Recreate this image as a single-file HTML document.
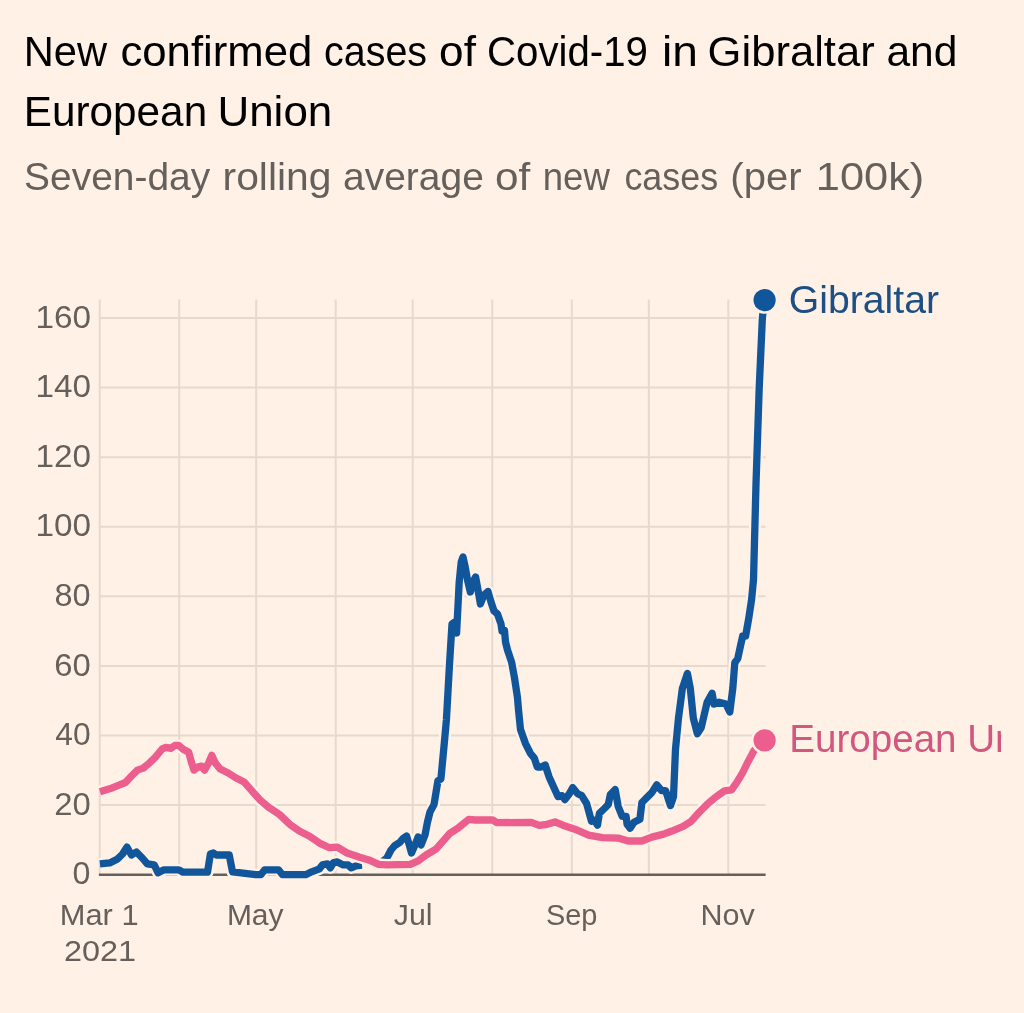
<!DOCTYPE html>
<html lang="en"><head><meta charset="utf-8"><title>New confirmed cases of Covid-19 in Gibraltar and European Union</title>
<style>
html,body{margin:0;padding:0;background:#fff1e5;}
body{width:1024px;height:1013px;overflow:hidden;position:relative;font-family:"Liberation Sans",Arial,sans-serif;}
svg{position:absolute;left:0;top:0;display:block}
text{font-family:"Liberation Sans",Arial,sans-serif;}
.t{fill:#000;font-size:42px}
.s{fill:#66605c;font-size:38px}
.k{fill:#66605c;font-size:31px}
.l{font-size:38.5px}
</style></head><body>
<svg width="1024" height="1013" viewBox="0 0 1024 1013">
<defs><clipPath id="c"><rect x="0" y="0" width="1001.3" height="1013"/></clipPath></defs>
<rect width="1024" height="1013" fill="#fff1e5"/>
<g stroke="#e6d9ce" stroke-width="2" fill="none">
<line x1="99.7" y1="299.6" x2="99.7" y2="874.7"/>
<line x1="179.2" y1="299.6" x2="179.2" y2="874.7"/>
<line x1="256.2" y1="299.6" x2="256.2" y2="874.7"/>
<line x1="335.7" y1="299.6" x2="335.7" y2="874.7"/>
<line x1="412.7" y1="299.6" x2="412.7" y2="874.7"/>
<line x1="492.3" y1="299.6" x2="492.3" y2="874.7"/>
<line x1="571.8" y1="299.6" x2="571.8" y2="874.7"/>
<line x1="648.8" y1="299.6" x2="648.8" y2="874.7"/>
<line x1="728.3" y1="299.6" x2="728.3" y2="874.7"/>
<line x1="99.7" y1="805.1" x2="765.6" y2="805.1"/>
<line x1="99.7" y1="735.5" x2="765.6" y2="735.5"/>
<line x1="99.7" y1="665.9" x2="765.6" y2="665.9"/>
<line x1="99.7" y1="596.3" x2="765.6" y2="596.3"/>
<line x1="99.7" y1="526.8" x2="765.6" y2="526.8"/>
<line x1="99.7" y1="457.2" x2="765.6" y2="457.2"/>
<line x1="99.7" y1="387.6" x2="765.6" y2="387.6"/>
<line x1="99.7" y1="318.0" x2="765.6" y2="318.0"/>
</g>
<line x1="98.9" y1="874.7" x2="765.6" y2="874.7" stroke="#66605c" stroke-width="2.4"/>
<text x="23.74" y="65.7" font-size="43.2" fill="#000" textLength="83.37" lengthAdjust="spacingAndGlyphs">New</text>
<text x="120.43" y="65.7" font-size="43.2" fill="#000" textLength="192.03" lengthAdjust="spacingAndGlyphs">confirmed</text>
<text x="324.12" y="65.7" font-size="43.2" fill="#000" textLength="102.97" lengthAdjust="spacingAndGlyphs">cases</text>
<text x="439.11" y="65.7" font-size="43.2" fill="#000" textLength="36.78" lengthAdjust="spacingAndGlyphs">of</text>
<text x="487.11" y="65.7" font-size="43.2" fill="#000" textLength="160.79" lengthAdjust="spacingAndGlyphs">Covid-19</text>
<text x="661.91" y="65.7" font-size="43.2" fill="#000" textLength="35.89" lengthAdjust="spacingAndGlyphs">in</text>
<text x="707.59" y="65.7" font-size="43.2" fill="#000" textLength="167.13" lengthAdjust="spacingAndGlyphs">Gibraltar</text>
<text x="886.45" y="65.7" font-size="43.2" fill="#000" textLength="70.98" lengthAdjust="spacingAndGlyphs">and</text>
<text x="23.81" y="125.5" font-size="43.2" fill="#000" textLength="183.36" lengthAdjust="spacingAndGlyphs">European</text>
<text x="217.48" y="125.5" font-size="43.2" fill="#000" textLength="114.78" lengthAdjust="spacingAndGlyphs">Union</text>
<text x="24.11" y="189.7" font-size="38.7" fill="#66605c" textLength="186.08" lengthAdjust="spacingAndGlyphs">Seven-day</text>
<text x="222.58" y="189.7" font-size="38.7" fill="#66605c" textLength="108.84" lengthAdjust="spacingAndGlyphs">rolling</text>
<text x="343.08" y="189.7" font-size="38.7" fill="#66605c" textLength="140.74" lengthAdjust="spacingAndGlyphs">average</text>
<text x="495.01" y="189.7" font-size="38.7" fill="#66605c" textLength="35.23" lengthAdjust="spacingAndGlyphs">of</text>
<text x="542.72" y="189.7" font-size="38.7" fill="#66605c" textLength="67.13" lengthAdjust="spacingAndGlyphs">new</text>
<text x="624.44" y="189.7" font-size="38.7" fill="#66605c" textLength="93.70" lengthAdjust="spacingAndGlyphs">cases</text>
<text x="730.39" y="189.7" font-size="38.7" fill="#66605c" textLength="71.12" lengthAdjust="spacingAndGlyphs">(per</text>
<text x="815.82" y="189.7" font-size="38.7" fill="#66605c" textLength="108.43" lengthAdjust="spacingAndGlyphs">100k)</text>
<text x="72.52" y="884.3" font-size="31" fill="#66605c" textLength="17.89" lengthAdjust="spacingAndGlyphs">0</text>
<text x="54.26" y="814.7" font-size="31" fill="#66605c" textLength="36.51" lengthAdjust="spacingAndGlyphs">20</text>
<text x="55.36" y="745.1" font-size="31" fill="#66605c" textLength="35.34" lengthAdjust="spacingAndGlyphs">40</text>
<text x="54.19" y="675.5" font-size="31" fill="#66605c" textLength="36.44" lengthAdjust="spacingAndGlyphs">60</text>
<text x="54.49" y="605.9" font-size="31" fill="#66605c" textLength="36.10" lengthAdjust="spacingAndGlyphs">80</text>
<text x="35.59" y="536.4" font-size="31" fill="#66605c" textLength="55.53" lengthAdjust="spacingAndGlyphs">100</text>
<text x="35.59" y="466.8" font-size="31" fill="#66605c" textLength="55.53" lengthAdjust="spacingAndGlyphs">120</text>
<text x="35.59" y="397.2" font-size="31" fill="#66605c" textLength="55.53" lengthAdjust="spacingAndGlyphs">140</text>
<text x="35.59" y="327.6" font-size="31" fill="#66605c" textLength="55.53" lengthAdjust="spacingAndGlyphs">160</text>
<text x="59.84" y="925.3" font-size="30.3" fill="#66605c" textLength="78.74" lengthAdjust="spacingAndGlyphs">Mar 1</text>
<text x="226.88" y="925.3" font-size="30.3" fill="#66605c" textLength="56.71" lengthAdjust="spacingAndGlyphs">May</text>
<text x="393.80" y="925.3" font-size="30.3" fill="#66605c" textLength="38.77" lengthAdjust="spacingAndGlyphs">Jul</text>
<text x="545.99" y="925.3" font-size="30.3" fill="#66605c" textLength="51.46" lengthAdjust="spacingAndGlyphs">Sep</text>
<text x="700.52" y="925.3" font-size="30.3" fill="#66605c" textLength="54.32" lengthAdjust="spacingAndGlyphs">Nov</text>
<text x="63.92" y="961" font-size="30.3" fill="#66605c" textLength="72.08" lengthAdjust="spacingAndGlyphs">2021</text>
<text x="788.70" y="313" font-size="38.6" fill="#1d4f84" textLength="150.30" lengthAdjust="spacingAndGlyphs">Gibraltar</text>
<g fill="none" stroke-linejoin="round" stroke-linecap="butt">
<path d="M99.9,863.9 L109.7,862.9 L117.6,858.9 L122.6,854.0 L126.9,847.1 L131.5,855.0 L136.4,852.0 L142.3,858.0 L147.3,863.9 L154.2,864.9 L158.1,872.8 L164.0,869.8 L178.8,869.8 L182.8,872.2 L207.5,872.2 L210.4,854.0 L213.4,853.0 L216.4,855.0 L229.2,855.0 L232.5,871.8 L255.8,874.7 L260.8,874.7 L264.7,869.8 L278.5,869.8 L282.5,874.7 L305.7,874.7 L311.6,871.8 L319.5,868.8 L322.4,864.9 L327.4,863.9 L330.3,867.8 L333.3,862.9 L337.3,861.9 L343.2,864.9 L348.1,864.9 L351.1,867.8 L356.0,865.8 L362.0,865.2" stroke="#fff1e5" stroke-width="12"/>
<path d="M382.5,861.5 L386.8,858.2 L391.0,850.0 L394.7,845.6 L399.8,842.4 L403.4,838.2 L406.6,836.0 L409.3,845.0 L411.5,853.0 L414.5,846.1 L418.1,837.0 L421.1,845.0 L425.0,835.0 L427.5,822.0 L430.0,812.0 L434.0,804.6 L437.9,780.9 L440.9,779.0 L443.9,747.4 L446.4,720.0 L449.4,666.1 L452.0,624.0 L454.8,622.0 L456.6,633.0 L459.2,582.0 L461.2,562.0 L463.0,557.0 L465.0,566.0 L467.5,580.0 L470.3,592.0 L473.0,582.0 L475.6,577.0 L478.0,590.0 L480.4,604.0 L484.0,595.0 L488.0,591.5 L491.0,602.0 L494.0,611.0 L497.5,614.0 L501.0,624.0 L502.0,631.0 L504.5,630.5 L505.5,642.0 L507.5,650.0 L511.6,662.2 L514.5,677.9 L517.5,697.7 L518.5,709.7 L520.5,729.5 L525.4,743.3 L530.3,753.2 L534.3,758.1 L537.3,767.0 L541.2,767.0 L545.2,765.0 L549.1,776.9 L554.0,787.7 L558.0,796.6 L561.9,795.6 L564.9,799.6 L568.8,794.6 L572.8,787.7 L577.7,793.7 L581.7,795.6 L586.6,803.5 L591.5,821.3 L594.5,820.3 L597.5,825.2 L599.4,813.4 L604.4,808.5 L608.3,804.5 L610.3,794.6 L615.2,789.7 L618.2,806.5 L622.2,816.4 L626.1,816.4 L627.1,824.3 L630.1,828.2 L634.0,822.3 L639.9,819.3 L641.9,802.5 L647.8,796.6 L651.8,792.7 L656.7,784.8 L661.6,790.7 L665.6,790.7 L670.5,805.5 L673.5,796.6 L675.5,749.2 L678.5,718.0 L682.4,688.3 L687.4,673.5 L690.3,688.3 L693.3,718.0 L697.3,733.7 L701.2,727.8 L707.1,702.2 L712.1,693.3 L714.0,704.1 L719.0,702.2 L725.9,704.1 L729.8,712.0 L732.8,688.3 L734.8,662.7 L737.7,658.7 L740.7,644.9 L742.7,636.0 L745.6,636.0 L748.6,619.2 L751.6,599.5 L753.5,579.7 L756.0,483.9 L759.2,388.0 L762.4,317.6 L764.6,300.0" stroke="#fff1e5" stroke-width="12"/>
<path d="M99.9,863.9 L109.7,862.9 L117.6,858.9 L122.6,854.0 L126.9,847.1 L131.5,855.0 L136.4,852.0 L142.3,858.0 L147.3,863.9 L154.2,864.9 L158.1,872.8 L164.0,869.8 L178.8,869.8 L182.8,872.2 L207.5,872.2 L210.4,854.0 L213.4,853.0 L216.4,855.0 L229.2,855.0 L232.5,871.8 L255.8,874.7 L260.8,874.7 L264.7,869.8 L278.5,869.8 L282.5,874.7 L305.7,874.7 L311.6,871.8 L319.5,868.8 L322.4,864.9 L327.4,863.9 L330.3,867.8 L333.3,862.9 L337.3,861.9 L343.2,864.9 L348.1,864.9 L351.1,867.8 L356.0,865.8 L362.0,865.2" stroke="#11569b" stroke-width="7.3"/>
<path d="M382.5,861.5 L386.8,858.2 L391.0,850.0 L394.7,845.6 L399.8,842.4 L403.4,838.2 L406.6,836.0 L409.3,845.0 L411.5,853.0 L414.5,846.1 L418.1,837.0 L421.1,845.0 L425.0,835.0 L427.5,822.0 L430.0,812.0 L434.0,804.6 L437.9,780.9 L440.9,779.0 L443.9,747.4 L446.4,720.0 L449.4,666.1 L452.0,624.0 L454.8,622.0 L456.6,633.0 L459.2,582.0 L461.2,562.0 L463.0,557.0 L465.0,566.0 L467.5,580.0 L470.3,592.0 L473.0,582.0 L475.6,577.0 L478.0,590.0 L480.4,604.0 L484.0,595.0 L488.0,591.5 L491.0,602.0 L494.0,611.0 L497.5,614.0 L501.0,624.0 L502.0,631.0 L504.5,630.5 L505.5,642.0 L507.5,650.0 L511.6,662.2 L514.5,677.9 L517.5,697.7 L518.5,709.7 L520.5,729.5 L525.4,743.3 L530.3,753.2 L534.3,758.1 L537.3,767.0 L541.2,767.0 L545.2,765.0 L549.1,776.9 L554.0,787.7 L558.0,796.6 L561.9,795.6 L564.9,799.6 L568.8,794.6 L572.8,787.7 L577.7,793.7 L581.7,795.6 L586.6,803.5 L591.5,821.3 L594.5,820.3 L597.5,825.2 L599.4,813.4 L604.4,808.5 L608.3,804.5 L610.3,794.6 L615.2,789.7 L618.2,806.5 L622.2,816.4 L626.1,816.4 L627.1,824.3 L630.1,828.2 L634.0,822.3 L639.9,819.3 L641.9,802.5 L647.8,796.6 L651.8,792.7 L656.7,784.8 L661.6,790.7 L665.6,790.7 L670.5,805.5 L673.5,796.6 L675.5,749.2 L678.5,718.0 L682.4,688.3 L687.4,673.5 L690.3,688.3 L693.3,718.0 L697.3,733.7 L701.2,727.8 L707.1,702.2 L712.1,693.3 L714.0,704.1 L719.0,702.2 L725.9,704.1 L729.8,712.0 L732.8,688.3 L734.8,662.7 L737.7,658.7 L740.7,644.9 L742.7,636.0 L745.6,636.0 L748.6,619.2 L751.6,599.5 L753.5,579.7 L756.0,483.9 L759.2,388.0 L762.4,317.6 L764.6,300.0" stroke="#11569b" stroke-width="7.3"/>
<path d="M99.9,791.8 L109.7,788.8 L119.6,784.9 L125.5,782.5 L131.5,776.0 L137.4,770.1 L143.3,768.1 L149.2,763.2 L155.2,757.3 L162.1,749.0 L166.0,747.4 L171.0,748.4 L174.9,745.4 L178.8,745.4 L182.8,749.0 L188.7,752.3 L191.7,763.2 L194.0,770.1 L197.6,767.1 L201.5,766.1 L204.5,770.1 L208.5,763.2 L211.8,755.3 L215.4,763.2 L220.3,769.1 L228.2,773.0 L236.1,778.0 L244.0,781.9 L251.9,790.8 L259.8,799.7 L267.7,806.6 L279.5,814.5 L289.9,824.4 L299.7,831.3 L309.6,836.2 L319.5,843.1 L329.4,847.7 L337.3,847.1 L347.1,853.0 L359.0,857.0 L368.8,859.9 L378.7,864.3 L386.6,864.9 L410.3,864.3 L418.2,860.9 L426.1,855.0 L436.0,849.1 L443.9,840.2 L449.8,833.3 L457.7,828.3 L463.5,823.6 L468.8,819.4 L474.8,820.0 L492.5,819.8 L496.5,822.6 L531.3,822.4 L539.2,825.4 L547.1,824.3 L555.0,821.9 L562.9,825.2 L574.8,829.2 L588.6,835.1 L602.4,837.7 L618.2,838.1 L628.1,841.0 L641.9,841.0 L651.8,837.1 L663.6,834.1 L671.3,831.3 L683.2,826.4 L691.1,821.4 L699.0,812.5 L706.9,804.6 L714.8,797.7 L724.6,790.8 L731.6,789.8 L736.5,782.9 L742.4,773.1 L748.3,761.2 L754.2,750.3 L764.6,740.2" stroke="#fff1e5" stroke-width="12"/>
<path d="M99.9,791.8 L109.7,788.8 L119.6,784.9 L125.5,782.5 L131.5,776.0 L137.4,770.1 L143.3,768.1 L149.2,763.2 L155.2,757.3 L162.1,749.0 L166.0,747.4 L171.0,748.4 L174.9,745.4 L178.8,745.4 L182.8,749.0 L188.7,752.3 L191.7,763.2 L194.0,770.1 L197.6,767.1 L201.5,766.1 L204.5,770.1 L208.5,763.2 L211.8,755.3 L215.4,763.2 L220.3,769.1 L228.2,773.0 L236.1,778.0 L244.0,781.9 L251.9,790.8 L259.8,799.7 L267.7,806.6 L279.5,814.5 L289.9,824.4 L299.7,831.3 L309.6,836.2 L319.5,843.1 L329.4,847.7 L337.3,847.1 L347.1,853.0 L359.0,857.0 L368.8,859.9 L378.7,864.3 L386.6,864.9 L410.3,864.3 L418.2,860.9 L426.1,855.0 L436.0,849.1 L443.9,840.2 L449.8,833.3 L457.7,828.3 L463.5,823.6 L468.8,819.4 L474.8,820.0 L492.5,819.8 L496.5,822.6 L531.3,822.4 L539.2,825.4 L547.1,824.3 L555.0,821.9 L562.9,825.2 L574.8,829.2 L588.6,835.1 L602.4,837.7 L618.2,838.1 L628.1,841.0 L641.9,841.0 L651.8,837.1 L663.6,834.1 L671.3,831.3 L683.2,826.4 L691.1,821.4 L699.0,812.5 L706.9,804.6 L714.8,797.7 L724.6,790.8 L731.6,789.8 L736.5,782.9 L742.4,773.1 L748.3,761.2 L754.2,750.3 L764.6,740.2" stroke="#eb5e8d" stroke-width="7.3"/>
</g>
<circle cx="764.6" cy="740.3" r="13.6" fill="#fff1e5"/><circle cx="764.6" cy="740.3" r="11.1" fill="#eb5e8d"/>
<circle cx="764.6" cy="300.1" r="13.6" fill="#fff1e5"/><circle cx="764.6" cy="300.1" r="11.1" fill="#11569b"/>
<g clip-path="url(#c)">
<text class="l" x="789.3" y="752.3" fill="#d1577f" textLength="278.7" lengthAdjust="spacingAndGlyphs">European Union</text></g>
</svg></body></html>
